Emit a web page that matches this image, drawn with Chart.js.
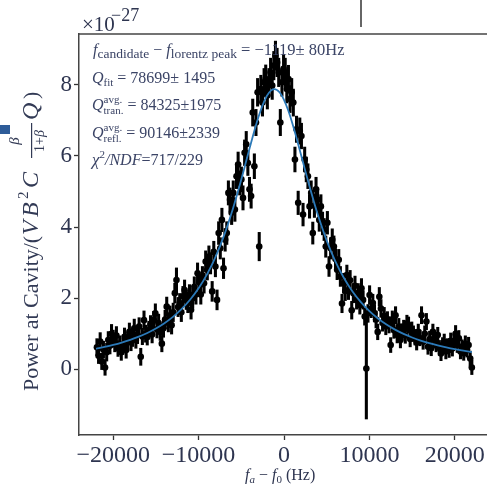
<!DOCTYPE html>
<html><head><meta charset="utf-8">
<script src="https://cdn.jsdelivr.net/npm/chart.js@4.4.1/dist/chart.umd.min.js"></script>
<style>
html,body{margin:0;padding:0;background:#fff;overflow:hidden;width:487px;height:491px;}
#wrap{position:absolute;left:0;top:0;width:500px;height:491px;}
</style></head><body><div id="wrap"><canvas id="c"></canvas></div>
<script>
// ---- data ----
const freqHz = [
-21900,-21710,-21520,-21330,-21140,-20950,-20760,-20570,-20380,-20190,
-20000,-19810,-19620,-19430,-19240,-19050,-18860,-18670,-18480,-18290,
-18100,-17910,-17720,-17530,-17340,-17150,-16960,-16770,-16580,-16390,
-16200,-16010,-15820,-15630,-15440,-15250,-15060,-14870,-14680,-14490,
-14300,-14110,-13920,-13730,-13540,-13350,-13160,-12970,-12780,-12590,
-12400,-12210,-12020,-11830,-11640,-11450,-11260,-11070,-10880,-10690,
-10500,-10310,-10120,-9930,-9740,-9550,-9360,-9170,-8980,-8790,
-8600,-8410,-8220,-8030,-7840,-7650,-7460,-7270,-7080,-6890,
-6700,-6510,-6320,-6130,-5940,-5750,-5560,-5370,-5180,-4990,
-4800,-4610,-4420,-4230,-4040,-3850,-3660,-3470,-3280,-3090,
-2900,-2710,-2520,-2330,-2140,-1950,-1760,-1570,-1380,-1190,
-1000,-810,-620,-430,-240,-50,140,330,520,710,
900,1090,1280,1470,1660,1850,2040,2230,2420,2610,
2800,2990,3180,3370,3560,3750,3940,4130,4320,4510,
4700,4890,5080,5270,5460,5650,5840,6030,6220,6410,
6600,6790,6980,7170,7360,7550,7740,7930,8120,8310,
8500,8690,8880,9070,9260,9450,9640,9830,10020,10210,
10400,10590,10780,10970,11160,11350,11540,11730,11920,12110,
12300,12490,12680,12870,13060,13250,13440,13630,13820,14010,
14200,14390,14580,14770,14960,15150,15340,15530,15720,15910,
16100,16290,16480,16670,16860,17050,17240,17430,17620,17810,
18000,18190,18380,18570,18760,18950,19140,19330,19520,19710,
19900,20090,20280,20470,20660,20850,21040,21230,21420,21610,
21800,21990];
const power = [
0.62,0.38,0.78,0.22,0.55,0.05,0.48,0.82,0.66,1.00,
0.86,0.72,0.95,0.58,0.70,0.48,0.64,0.91,0.54,0.80,
1.05,0.75,0.88,1.15,0.82,0.96,1.20,0.35,0.92,1.38,
1.00,0.91,1.10,1.25,0.98,1.38,1.57,1.12,1.30,1.05,
0.72,1.15,1.40,1.76,1.30,1.52,1.24,1.60,2.14,2.51,
1.75,1.86,1.60,2.05,2.23,1.95,1.86,2.10,1.67,2.00,
2.32,2.10,2.70,2.45,2.10,2.60,2.42,3.03,2.80,3.17,
2.98,2.19,3.30,2.89,1.95,3.83,3.40,4.20,2.84,3.64,
3.83,4.96,4.77,4.40,4.96,4.49,5.43,5.76,5.24,5.34,
4.82,6.09,6.33,5.80,5.06,4.87,7.22,5.71,6.94,7.79,
3.45,7.88,7.50,8.07,8.16,7.70,8.07,8.35,7.98,8.54,
8.82,8.63,8.35,6.94,8.07,8.45,8.35,7.88,8.16,7.60,
7.79,7.50,5.90,6.75,4.68,6.70,6.56,4.35,5.90,5.62,
5.43,4.58,4.96,3.83,4.60,5.06,4.77,4.20,4.58,4.10,
3.93,3.45,4.12,2.89,3.40,3.64,3.45,3.10,2.80,3.08,
2.61,1.85,2.42,2.20,2.65,2.23,2.50,1.66,2.14,2.35,
1.95,2.14,1.80,2.28,1.95,1.48,0.02,1.57,2.09,1.70,
1.86,1.57,1.40,1.05,2.04,1.71,1.30,1.50,1.20,1.38,
1.25,0.68,1.40,1.10,1.52,0.96,1.20,0.82,1.05,1.15,
0.95,1.29,1.24,0.85,1.10,1.00,0.90,0.75,1.05,0.88,
1.52,0.77,1.00,1.34,0.63,0.85,0.59,1.05,0.82,0.70,
0.96,0.60,0.44,0.68,0.77,0.50,0.65,0.54,0.80,0.58,
0.77,1.00,0.68,0.87,0.50,0.62,0.45,0.72,0.55,0.68,
0.30,0.05];
const powerErr = [
0.24,0.22,0.25,0.23,0.24,0.22,0.25,0.24,0.23,0.26,
0.24,0.23,0.25,0.22,0.24,0.23,0.22,0.25,0.23,0.24,
0.25,0.23,0.24,0.26,0.23,0.24,0.25,0.24,0.23,0.26,
0.24,0.23,0.25,0.26,0.24,0.25,0.27,0.24,0.25,0.24,
0.23,0.25,0.26,0.27,0.25,0.26,0.25,0.26,0.28,0.34,
0.27,0.27,0.26,0.28,0.28,0.27,0.27,0.28,0.26,0.27,
0.28,0.27,0.29,0.28,0.27,0.29,0.28,0.30,0.29,0.30,
0.30,0.28,0.30,0.29,0.28,0.32,0.30,0.33,0.29,0.32,
0.32,0.34,0.33,0.33,0.34,0.33,0.35,0.35,0.34,0.35,
0.34,0.36,0.36,0.35,0.34,0.34,0.38,0.35,0.37,0.39,
0.40,0.39,0.38,0.39,0.40,0.38,0.39,0.40,0.39,0.40,
0.41,0.40,0.40,0.37,0.39,0.40,0.40,0.39,0.39,0.38,
0.39,0.38,0.35,0.37,0.33,0.37,0.36,0.32,0.35,0.35,
0.35,0.33,0.34,0.31,0.33,0.34,0.33,0.32,0.33,0.32,
0.31,0.30,0.32,0.28,0.30,0.31,0.30,0.29,0.28,0.29,
0.28,0.26,0.28,0.27,0.28,0.27,0.28,0.25,0.27,0.27,
0.26,0.27,0.25,0.27,0.26,0.24,1.42,0.25,0.26,0.25,
0.25,0.24,0.24,0.22,0.26,0.25,0.23,0.24,0.23,0.24,
0.23,0.21,0.24,0.23,0.24,0.22,0.23,0.22,0.23,0.23,
0.22,0.23,0.23,0.22,0.23,0.22,0.22,0.21,0.22,0.22,
0.24,0.21,0.22,0.23,0.21,0.22,0.21,0.22,0.22,0.21,
0.22,0.21,0.20,0.21,0.22,0.21,0.21,0.21,0.22,0.21,
0.22,0.23,0.21,0.22,0.21,0.21,0.20,0.22,0.21,0.22,
0.21,0.20];
const fitFreqHz = [-22000,-21000,-20000,-19000,-18000,-17000,-16000,-15000,-14000,-13000,-12000,-11000,-10000,-9000,-8000,-7000,-6000,
-5500,-5000,-4500,-4000,-3500,-3000,-2500,-2000,-1500,-1119,-500,0,500,1000,1500,2000,2500,3000,3500,4000,
5000,6000,7000,8000,9000,10000,11000,12000,13000,14000,15000,16000,17000,18000,19000,20000,21000,22000];
const fitPower = [0.575,0.626,0.683,0.749,0.826,0.916,1.021,1.146,1.295,1.473,1.690,1.954,2.278,2.677,3.170,3.773,4.500,
4.907,5.340,5.788,6.241,6.681,7.086,7.431,7.691,7.844,7.880,7.785,7.580,7.276,6.899,6.475,6.026,5.573,5.131,4.710,4.316,
3.619,3.043,2.574,2.194,1.886,1.634,1.428,1.257,1.114,0.995,0.893,0.807,0.733,0.669,0.613,0.564,0.522,0.484];
const xTickValues = [-20000,-10000,0,10000,20000];
const xTickLabels = ['\u221220000','\u221210000','0','10000','20000'];
const yTickValues = [0,2,4,6,8];
const yTickLabels = ['0','2','4','6','8'];

// ---- styling ----
const SERIF = "'Liberation Serif','Times New Roman',serif";
const TICK_COLOR = '#2e3550';
const NOTE_COLOR = '#3b4466';
function fontStr(sz, it){ return (it ? 'italic ' : '') + sz + 'px ' + SERIF; }

function drawRich(ctx, segs, x, y){
  let cx = x;
  for (const s of segs){
    if (s.stack){
      ctx.font = fontStr(s.size, false);
      const w1 = ctx.measureText(s.sup).width, w2 = ctx.measureText(s.sub).width;
      ctx.fillText(s.sup, cx, y + s.supDy);
      ctx.fillText(s.sub, cx, y + s.subDy);
      cx += Math.max(w1, w2);
    } else {
      ctx.font = fontStr(s.size, s.it);
      ctx.fillText(s.t, cx, y + (s.dy || 0));
      cx += ctx.measureText(s.t).width;
    }
  }
  return cx;
}

const textPlugin = {
  id: 'texts',
  afterDraw(chart){
    const ctx = chart.ctx, a = chart.chartArea;
    ctx.save();
    // top spine
    ctx.strokeStyle = '#444'; ctx.lineWidth = 1.5;
    ctx.beginPath(); ctx.moveTo(a.left, a.top); ctx.lineTo(a.right, a.top); ctx.stroke();
    // small line above plot
    ctx.strokeStyle = '#333'; ctx.lineWidth = 1.5;
    ctx.beginPath(); ctx.moveTo(361, 0); ctx.lineTo(361, 27); ctx.stroke();
    // small blue square at left edge
    ctx.fillStyle = '#2e5c99'; ctx.fillRect(0, 125, 10, 9);

    ctx.textAlign = 'left'; ctx.textBaseline = 'alphabetic';
    // exponent
    ctx.fillStyle = TICK_COLOR;
    ctx.font = fontStr(21, false); ctx.fillText('\u00d710', 82, 31);
    ctx.font = fontStr(18, false); ctx.fillText('\u221227', 111, 21);

    // annotation
    ctx.fillStyle = NOTE_COLOR;
    const X0 = 93;
    drawRich(ctx, [
      {t:'f', size:16, it:true},
      {t:'candidate', size:13.5, dy:3},
      {t:' \u2212 ', size:16},
      {t:'f', size:16, it:true},
      {t:'lorentz peak', size:13.5, dy:3},
      {t:' = \u22121119\u00b1 80Hz', size:16.5}
    ], X0, 55);
    drawRich(ctx, [
      {t:'Q', size:16, it:true},
      {t:'fit', size:11, dy:3},
      {t:' = 78699\u00b1 1495', size:16}
    ], X0 - 1, 83);
    drawRich(ctx, [
      {t:'Q', size:16, it:true},
      {stack:true, sup:'avg.', sub:'tran.', size:11, supDy:-7, subDy:4},
      {t:' = 84325\u00b11975', size:16}
    ], X0 - 1, 110);
    drawRich(ctx, [
      {t:'Q', size:16, it:true},
      {stack:true, sup:'avg.', sub:'refl.', size:11, supDy:-7, subDy:4},
      {t:' = 90146\u00b12339', size:16}
    ], X0 - 1, 138);
    drawRich(ctx, [
      {t:'\u03c7', size:17, it:true},
      {t:'2', size:11, dy:-7},
      {t:'/NDF', size:16, it:true},
      {t:'=717/229', size:16}
    ], X0 - 1, 165);

    // x axis title
    ctx.fillStyle = TICK_COLOR;
    drawRich(ctx, [
      {t:'f', size:16, it:true},
      {t:'a', size:11, it:true, dy:3},
      {t:' \u2212 ', size:16},
      {t:'f', size:16, it:true},
      {t:'0', size:11, dy:3},
      {t:' (Hz)', size:16}
    ], 245, 480);

    // y axis title (rotated)
    ctx.save();
    ctx.translate(38, 391);
    ctx.rotate(-Math.PI / 2);
    ctx.fillStyle = '#323a55';
    ctx.font = fontStr(22, false); ctx.fillText('Power at Cavity/(', 0, 0);
    ctx.font = fontStr(24, true); ctx.fillText('V', 156, 0); ctx.fillText('B', 174, 0);
    ctx.font = fontStr(15, false); ctx.fillText('2', 192, -10);
    ctx.font = fontStr(24, true); ctx.fillText('C', 203, 0);
    ctx.textAlign = 'center';
    ctx.font = fontStr(15, true); ctx.fillText('\u03b2', 250, -19);
    ctx.fillRect(233, -7, 35, 1.2);
    ctx.textAlign = 'left';
    ctx.font = fontStr(14, false);
    const w1 = ctx.measureText('1+').width;
    ctx.font = fontStr(14, true);
    const w2 = ctx.measureText('\u03b2').width;
    const sx = 250 - (w1 + w2) / 2;
    ctx.font = fontStr(14, false); ctx.fillText('1+', sx, 6);
    ctx.font = fontStr(14, true); ctx.fillText('\u03b2', sx + w1, 6);
    ctx.font = fontStr(24, true); ctx.fillText('Q', 271, 0);
    ctx.font = fontStr(22, false); ctx.fillText(')', 292, 0);
    ctx.restore();

    ctx.restore();
  }
};

new Chart(document.getElementById('c'), {
  type: 'scatter',
  data: {
    datasets: [
      { type: 'line', data: fitFreqHz.map((x, i) => ({x: x, y: fitPower[i]})),
        borderColor: '#2b79b8', borderWidth: 1.8, pointRadius: 0, tension: 0.4,
        cubicInterpolationMode: 'monotone', fill: false, order: 0 },
      { type: 'scatter', data: freqHz.map((x, i) => ({x: x, y: power[i]})),
        backgroundColor: '#000', borderColor: '#000', borderWidth: 0, pointRadius: 3.3, order: 1 },
      { type: 'bar', data: freqHz.map((x, i) => ({x: x, y: [power[i] - powerErr[i], power[i] + powerErr[i]]})),
        backgroundColor: '#000', borderWidth: 0, barThickness: 2.4, grouped: false, order: 2 }
    ]
  },
  options: {
    responsive: true, maintainAspectRatio: false, animation: false, events: [],
    layout: { padding: { left: 0, top: 34, right: 11, bottom: 0 } },
    plugins: { legend: { display: false }, tooltip: { enabled: false } },
    scales: {
      x: {
        type: 'linear', min: -24000, max: 24000, offset: false,
        afterBuildTicks: s => { s.ticks = xTickValues.map(v => ({value: v})); },
        afterFit: s => { s.height = 56; },
        grid: { display: true, offset: false, drawOnChartArea: false, drawTicks: true, tickLength: 5, tickWidth: 1.3, tickColor: '#333' },
        border: { display: true, color: '#444', width: 1.5 },
        ticks: { font: { family: SERIF, size: 24 }, color: TICK_COLOR, padding: 1, maxRotation: 0, autoSkip: false,
          callback: v => xTickLabels[xTickValues.indexOf(v)] }
      },
      y: {
        type: 'linear', min: -1.85, max: 9.43,
        afterBuildTicks: s => { s.ticks = yTickValues.map(v => ({value: v})); },
        afterFit: s => { s.width = 79; },
        grid: { display: true, drawOnChartArea: false, drawTicks: true, tickLength: 5, tickWidth: 1.3, tickColor: '#333' },
        border: { display: true, color: '#444', width: 1.5 },
        ticks: { font: { family: SERIF, size: 23 }, color: TICK_COLOR, padding: 2, autoSkip: false,
          callback: v => yTickLabels[yTickValues.indexOf(v)] }
      }
    }
  },
  plugins: [textPlugin]
});
</script>
</body></html>
